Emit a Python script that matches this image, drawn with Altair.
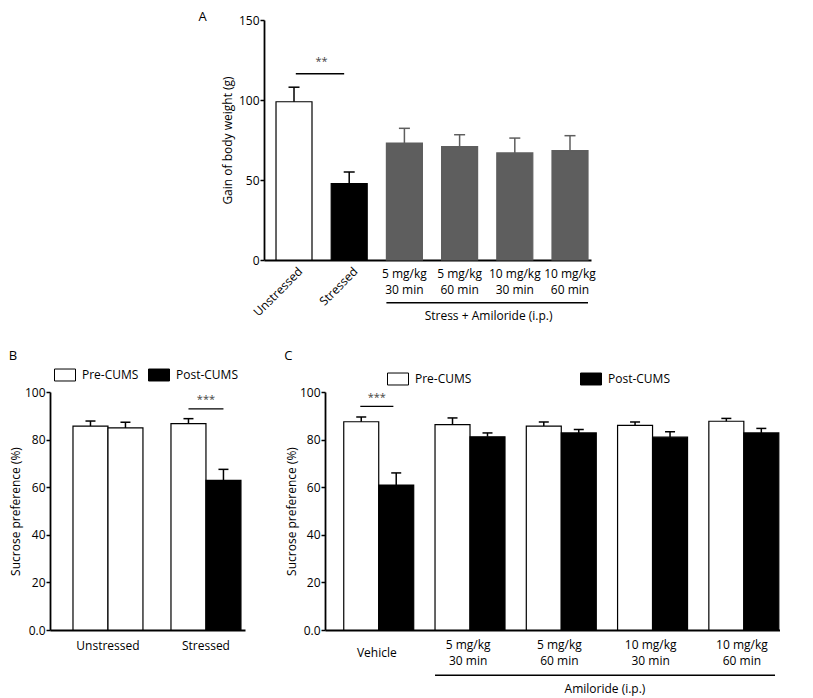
import altair as alt
import pandas as pd

FONT = "Open Sans"
GRAY = "#5e5e5e"

# ---------------- Panel A data ----------------
a_categories = ["Unstressed", "Stressed", "5 mg/kg\n30 min", "5 mg/kg\n60 min",
                "10 mg/kg\n30 min", "10 mg/kg\n60 min"]
a_means = [98.9, 47.7, 73.1, 70.8, 66.9, 68.3]
a_sems = [9.1, 7.3, 9.2, 7.5, 9.3, 9.4]
a_fills = ["white", "black", GRAY, GRAY, GRAY, GRAY]
a_strokes = ["black", "black", GRAY, GRAY, GRAY, GRAY]
a_rotated = ["Unstressed", "Stressed"]
a_treated = a_categories[2:]
a_treat_label = "Stress + Amiloride (i.p.)"
a_sig = ["Unstressed", "Stressed"]
a_sig_y = 116.4
a_star_y = 123.7
a_ticks = [0, 50, 100, 150]

# ---------------- Panel B data ----------------
phases = ["Pre-CUMS", "Post-CUMS"]
b_groups = ["Unstressed", "Stressed"]
b_pre = [85.7, 86.7]
b_pre_sem = [2.1, 2.1]
b_post = [84.9, 62.9]
b_post_sem = [2.4, 4.6]
b_sig_group = "Stressed"
b_sig_y = 92.9
b_star_y = 96.5

# ---------------- Panel C data ----------------
c_groups = ["Vehicle", "5 mg/kg\n30 min", "5 mg/kg\n60 min",
            "10 mg/kg\n30 min", "10 mg/kg\n60 min"]
c_pre = [87.5, 86.3, 85.7, 86.0, 87.7]
c_pre_sem = [2.0, 2.8, 1.7, 1.4, 1.2]
c_post = [60.9, 81.2, 82.8, 81.0, 82.8]
c_post_sem = [5.1, 1.6, 1.4, 2.3, 1.9]
c_treated = c_groups[1:]
c_treat_label = "Amiloride (i.p.)"
c_sig_group = "Vehicle"
c_sig_y = 94.0
c_star_y = 97.6

pct_ticks = [0, 20, 40, 60, 80, 100]
pct_title = "Sucrose preference (%)"

# ---------------- sizes / layout ----------------
A_W, A_H = 327, 240
B_W, B_H = 195, 238
C_W, C_H = 455, 238
SPACER_W = 148
SP_BC = 39
SP_V = 28

RECT = "M-1,-0.57H1V0.57H-1Z"


def y_axis(title, values, title_x, label_expr=None):
    kw = dict(title=title, values=values, grid=False, domainColor="black",
              domainWidth=1.8, tickColor="black", tickWidth=1.5, tickSize=4,
              labelPadding=1, labelFont=FONT, labelFontSize=12, labelColor="black",
              titleFont=FONT, titleFontSize=12, titleFontWeight="normal",
              titleColor="black", titleX=title_x)
    if label_expr:
        kw["labelExpr"] = label_expr
    return alt.Axis(**kw)


x_axis = alt.Axis(title=None, labels=False, ticks=False, domainColor="black",
                  domainWidth=1.8)


def letter(t, x, y):
    return alt.Chart(pd.DataFrame({"t": [t]})).mark_text(
        fontSize=13, align="center", baseline="middle", color="black"
    ).encode(x=alt.value(x), y=alt.value(y), text="t:N")


# ================= Panel A =================
a_df = pd.DataFrame({"cat": a_categories, "mean": a_means, "sem": a_sems})
a_df["top"] = a_df["mean"] + a_df["sem"]

a_xscale = alt.Scale(domain=a_categories, paddingInner=0.348, paddingOuter=0.136, align=0.8)
a_yscale = alt.Scale(domain=[0, 150], nice=False)


def ax(field="cat", **kw):
    return alt.X(f"{field}:N", scale=a_xscale, sort=a_categories, axis=x_axis, **kw)


def ay(field):
    return alt.Y(f"{field}:Q", scale=a_yscale,
                 axis=y_axis("Gain of body weight (g)", a_ticks, -30))


a_fill = alt.Fill("cat:N", scale=alt.Scale(domain=a_categories, range=a_fills), legend=None)
a_stroke = alt.Stroke("cat:N", scale=alt.Scale(domain=a_categories, range=a_strokes), legend=None)
a_capcol = alt.Color("cat:N", scale=alt.Scale(domain=a_categories, range=a_strokes), legend=None)

a_base = alt.Chart(a_df)
a_bars = a_base.mark_bar(strokeWidth=1.2).encode(x=ax(), y=ay("mean"), fill=a_fill, stroke=a_stroke)
a_err = a_base.mark_rule(strokeWidth=1.5).encode(x=ax(), y=ay("mean"), y2="top:Q", stroke=a_stroke)
a_cap = a_base.mark_tick(thickness=1.5, size=11, opacity=1).encode(x=ax(), y=ay("top"), color=a_capcol)

a_rot = alt.Chart(a_df[a_df["cat"].isin(a_rotated)]).mark_text(
    angle=315, align="right", baseline="top", fontSize=12, color="black"
).encode(x=ax(bandPosition=0.58), y=alt.value(A_H + 6), text="cat:N")

a_lab = alt.Chart(a_df[a_df["cat"].isin(a_treated)]).mark_text(
    align="center", baseline="middle", fontSize=12, lineBreak="\n", lineHeight=15.5, color="black"
).encode(x=ax(), y=alt.value(A_H + 14), text="cat:N")

a_br_df = pd.DataFrame({"s": [a_treated[0]], "e": [a_treated[-1]],
                        "c": [a_treated[1]], "t": [a_treat_label]})
a_bracket = alt.Chart(a_br_df).mark_rule(color="black", strokeWidth=1.5).encode(
    x=ax("s", bandPosition=0), x2=alt.X2("e:N", bandPosition=1), y=alt.value(A_H + 42.7))
a_br_text = alt.Chart(a_br_df).mark_text(fontSize=12, dx=11, baseline="middle", color="black").encode(
    x=ax("c", bandPosition=1), y=alt.value(A_H + 56), text="t:N")

a_sig_df = pd.DataFrame({"s": [a_sig[0]], "e": [a_sig[1]], "y": [a_sig_y],
                         "sy": [a_star_y], "t": ["**"]})
a_sigline = alt.Chart(a_sig_df).mark_rule(color="black", strokeWidth=1.3).encode(
    x=ax("s", bandPosition=0.55), x2=alt.X2("e:N", bandPosition=0.36), y=ay("y"))
a_stars = alt.Chart(a_sig_df).mark_text(fontSize=11, dx=9.5, baseline="middle", color="#444").encode(
    x=ax("s", bandPosition=1), y=ay("sy"), text="t:N")

panel_a = alt.layer(a_bars, a_err, a_cap, a_rot, a_lab, a_bracket, a_br_text,
                    a_sigline, a_stars, letter("A", -61.5, -3)).properties(width=A_W, height=A_H)


# ================= grouped panels (B, C) =================
def grouped_panel(groups, pre, pre_sem, post, post_sem, W, H, xscale, legend_x, legend_y,
                  col_pad, title_x, sig_group, sig_y, star_y, let, let_x,
                  single_groups, single_y, multi_y, white_groups=None, treated=None,
                  treat_label=None, treat_mid=None, bracket_y=None, treat_y=None):
    rows = []
    for i, g in enumerate(groups):
        rows.append({"group": g, "phase": phases[0], "mean": pre[i], "sem": pre_sem[i]})
        rows.append({"group": g, "phase": phases[1], "mean": post[i], "sem": post_sem[i]})
    df = pd.DataFrame(rows)
    df["top"] = df["mean"] + df["sem"]

    yscale = alt.Scale(domain=[0, 100], nice=False)

    def gx(field="group", **kw):
        return alt.X(f"{field}:N", scale=xscale, sort=groups, axis=x_axis, **kw)

    def gy(field):
        return alt.Y(f"{field}:Q", scale=yscale,
                     axis=y_axis(pct_title, pct_ticks, title_x,
                                 "datum.value === 0 ? '0.0' : datum.label"))

    xoff = alt.XOffset("phase:N", sort=phases,
                       scale=alt.Scale(domain=phases, paddingInner=0, paddingOuter=0))
    legend = alt.Legend(title=None, orient="none", legendX=legend_x, legendY=legend_y,
                        direction="horizontal", symbolType=RECT, symbolSize=441,
                        symbolStrokeColor="black", symbolStrokeWidth=1,
                        labelFont=FONT, labelFontSize=12, labelColor="black",
                        labelOffset=6, columnPadding=col_pad, padding=0)
    fill_field = alt.Fill("phase:N", scale=alt.Scale(domain=phases, range=["white", "black"]),
                          legend=legend)
    if white_groups:
        test = " || ".join([f"datum.group === '{g}'" for g in white_groups])
        fill = alt.when(test).then(alt.value("white")).otherwise(fill_field)
    else:
        fill = fill_field

    base = alt.Chart(df)
    bars = base.mark_bar(stroke="black", strokeWidth=1.2).encode(
        x=gx(), xOffset=xoff, y=gy("mean"), fill=fill)
    err = base.mark_rule(color="black", strokeWidth=1.5).encode(
        x=gx(), xOffset=xoff, y=gy("mean"), y2="top:Q")
    cap = base.mark_tick(color="black", thickness=1.5, size=10, opacity=1).encode(
        x=gx(), xOffset=xoff, y=gy("top"))

    gdf = pd.DataFrame({"group": groups})
    single = gdf[gdf["group"].isin(single_groups)]
    multi = gdf[~gdf["group"].isin(single_groups)]
    layers = [bars, err, cap]
    if len(single):
        layers.append(alt.Chart(single).mark_text(
            fontSize=12, baseline="middle", color="black"
        ).encode(x=gx(), y=alt.value(H + single_y), text="group:N"))
    if len(multi):
        layers.append(alt.Chart(multi).mark_text(
            fontSize=12, baseline="middle", lineBreak="\n", lineHeight=15.5, color="black"
        ).encode(x=gx(), y=alt.value(H + multi_y), text="group:N"))

    sdf = pd.DataFrame({"g": [sig_group], "y": [sig_y], "sy": [star_y], "t": ["***"]})
    layers.append(alt.Chart(sdf).mark_rule(color="black", strokeWidth=1.3).encode(
        x=gx("g", bandPosition=0.25), x2=alt.X2("g:N", bandPosition=0.75), y=gy("y")))
    layers.append(alt.Chart(sdf).mark_text(fontSize=11, baseline="middle", color="#444").encode(
        x=gx("g"), y=gy("sy"), text="t:N"))
    layers.append(letter(let, let_x, -36))
    if treated:
        bdf = pd.DataFrame({"s": [treated[0]], "e": [treated[-1]], "c": [treat_mid],
                            "t": [treat_label]})
        layers.append(alt.Chart(bdf).mark_rule(color="black", strokeWidth=1.5).encode(
            x=gx("s", bandPosition=0), x2=alt.X2("e:N", bandPosition=1),
            y=alt.value(H + bracket_y)))
        layers.append(alt.Chart(bdf).mark_text(fontSize=12, dx=12.5, baseline="middle",
                                               color="black").encode(
            x=gx("c", bandPosition=1), y=alt.value(H + treat_y), text="t:N"))
    return alt.layer(*layers).properties(width=W, height=H)


panel_b = grouped_panel(
    b_groups, b_pre, b_pre_sem, b_post, b_post_sem, B_W, B_H,
    alt.Scale(domain=b_groups, paddingInner=0.286, paddingOuter=0.138, align=0.85),
    4, -28, 7, -28, b_sig_group, b_sig_y, b_star_y, "B", -37,
    single_groups=b_groups, single_y=16, multi_y=16,
    white_groups=["Unstressed"])

panel_c = grouped_panel(
    c_groups, c_pre, c_pre_sem, c_post, c_post_sem, C_W, C_H,
    alt.Scale(domain=c_groups, paddingInner=0.275, paddingOuter=0.13, align=0.79),
    62, -24, 106, -27, c_sig_group, c_sig_y, c_star_y, "C", -36.7,
    single_groups=["Vehicle"], single_y=23.3, multi_y=15.3,
    treated=c_treated, treat_label=c_treat_label, treat_mid=c_groups[2],
    bracket_y=45.3, treat_y=59.3)

spacer = alt.Chart(pd.DataFrame({"v": [0]})).mark_point(opacity=0, size=1).encode(
    x=alt.value(0), y=alt.value(0)).properties(width=SPACER_W, height=10)

indep = dict(fill="independent", stroke="independent", color="independent")

row_a = alt.hconcat(spacer, panel_a, spacing=0).resolve_scale(**indep).resolve_legend(
    fill="independent")
row_bc = alt.hconcat(panel_b, panel_c, spacing=SP_BC).resolve_scale(**indep).resolve_legend(
    fill="independent")

chart = alt.vconcat(row_a, row_bc, spacing=SP_V).resolve_scale(**indep).resolve_legend(
    fill="independent").properties(
    padding={"left": 0, "top": 3, "right": 0, "bottom": 0}
).configure(font=FONT).configure_view(strokeWidth=0)

chart.save("out.html", embed_options={"renderer": "svg", "actions": False})
